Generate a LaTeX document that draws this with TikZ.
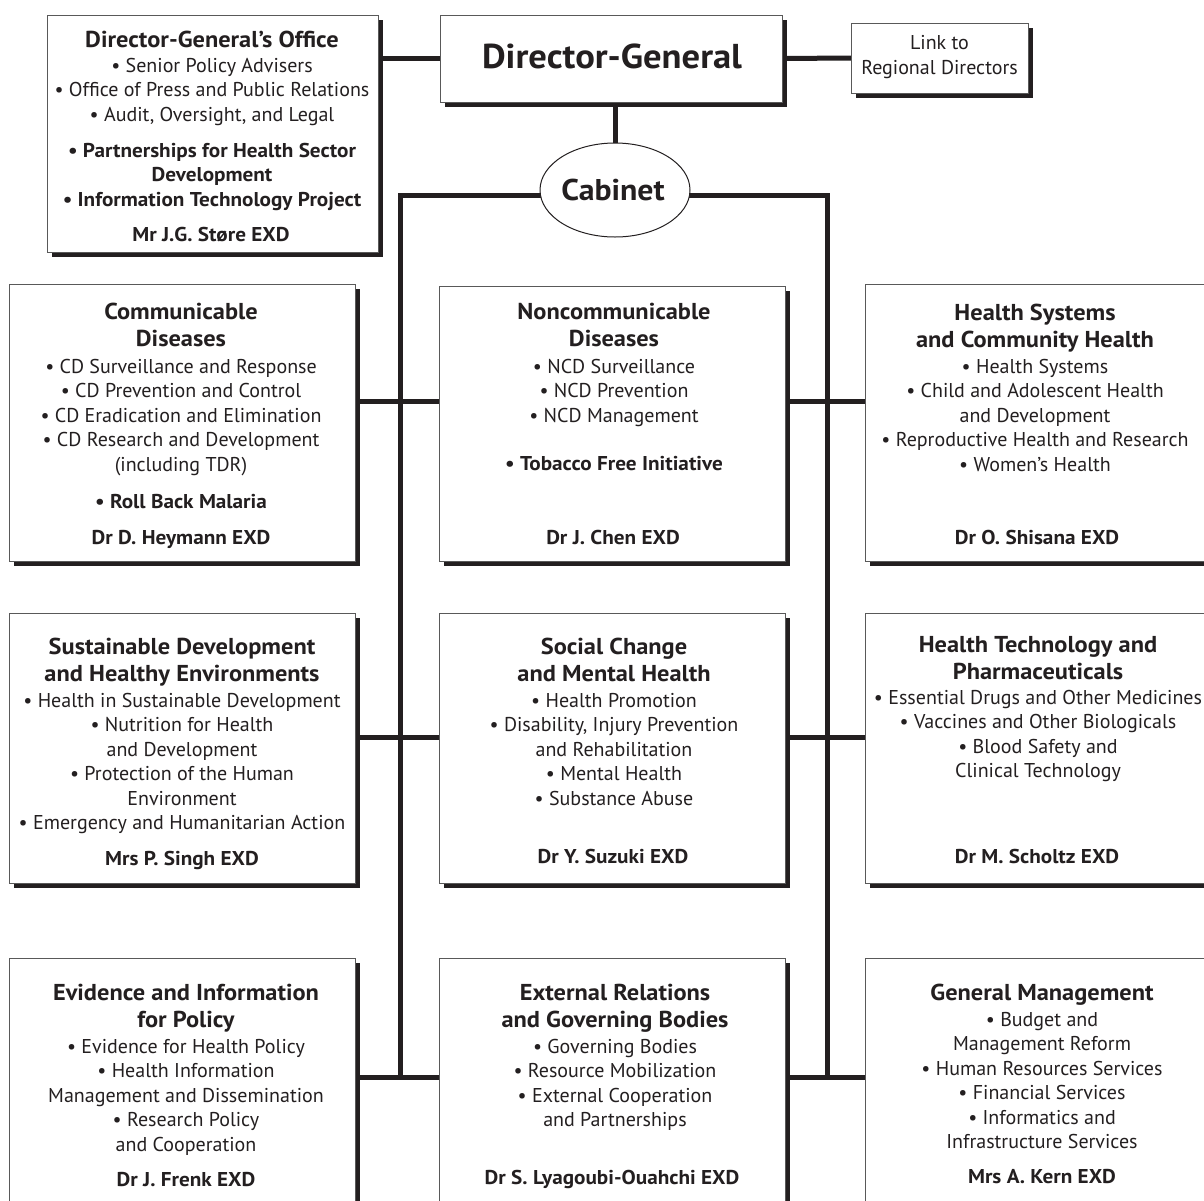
\documentclass[tikz,border=0pt]{standalone}
\usepackage{fontspec}
\setmainfont{PT Sans}[BoldFeatures={FakeStretch=1.06}]
\usetikzlibrary{shapes.geometric,shadows}
\definecolor{ink}{HTML}{231F20}
\newcommand{\ttl}[1]{{\fontsize{23}{24.5}\selectfont\bfseries #1}}
\newcommand{\bul}{\textbullet\ }
\tikzset{
 orgbox/.style={draw=black!65, line width=1pt, fill=white, inner sep=0pt,
   drop shadow={shadow xshift=5pt, shadow yshift=-5pt, fill=ink, opacity=1}},
 conn/.style={draw=ink, line width=5pt},
 txt/.style={anchor=base, inner sep=0pt, text=ink, font=\fontsize{20}{24.5}\selectfont},
 exd/.style={anchor=base, inner sep=0pt, text=ink, font=\fontsize{20}{24.5}\selectfont\bfseries},
}
\newcommand{\bx}[5]{\node[orgbox, minimum width={#4-#2}, minimum height={#5-#3}] (#1) at ({(#2+#4)/2},{(#3+#5)/2}) {};}
\newenvironment{blk}{\begin{tabular}[t]{@{}c@{}}}{\end{tabular}}
\begin{document}
\begin{tikzpicture}[x=1pt,y=-1pt]
\useasboundingbox (0,0) rectangle (1204,1200);
\clip (0,0) rectangle (1204,1200);
\fill[white] (0,0) rectangle (1204,1200);
% junction coordinates
\coordinate (vl) at (400,195);
\coordinate (vr) at (827,195);
\coordinate (vlb) at (400,1077);
\coordinate (vrb) at (827,1077);
\coordinate (j1) at (400,401);
\coordinate (j2) at (400,737);
\coordinate (j3) at (400,1077);
% node outlines used as connector ends
\path
 node[minimum width=331, minimum height=237, inner sep=0pt] (dgo) at (212.5,133.5) {}
 node[minimum width=342, minimum height=87, inner sep=0pt] (dg) at (611,58.5) {}
 node[minimum width=177, minimum height=70, inner sep=0pt] (link) at (939.5,58) {}
 node[ellipse, minimum width=150, minimum height=94, inner sep=0pt] (cab) at (615,190) {}
 node[minimum width=346, minimum height=277, inner sep=0pt] (L1) at (182,422.5) {}
 node[minimum width=346, minimum height=275, inner sep=0pt] (C1) at (612,423.5) {}
 node[minimum width=355, minimum height=277, inner sep=0pt] (R1) at (1042.5,422.5) {}
 node[minimum width=346, minimum height=270, inner sep=0pt] (L2) at (182,748) {}
 node[minimum width=346, minimum height=270, inner sep=0pt] (C2) at (612,748) {}
 node[minimum width=355, minimum height=270, inner sep=0pt] (R2) at (1042.5,748) {}
 node[minimum width=346, minimum height=257, inner sep=0pt] (L3) at (182,1086.5) {}
 node[minimum width=346, minimum height=257, inner sep=0pt] (C3) at (612,1086.5) {}
 node[minimum width=355, minimum height=257, inner sep=0pt] (R3) at (1042.5,1086.5) {};
% connectors
\draw[conn] (dgo.east |- dg.west) -- (dg.west);
\draw[conn] (dg.east) -- (link.west);
\draw[conn] (dg.south -| cab.north) -- (cab.north);
\draw[conn, line join=miter] (vlb) -- (vl) -- (vr) -- (vrb);
\draw[conn] (L1.east |- j1) -- (C1.west |- j1);
\draw[conn] (C1.east |- j1) -- (R1.west |- j1);
\draw[conn] (L2.east |- j2) -- (C2.west |- j2);
\draw[conn] (C2.east |- j2) -- (R2.west |- j2);
\draw[conn] (L3.east |- j3) -- (C3.west |- j3);
\draw[conn] (C3.east |- j3) -- (R3.west |- j3);
% visible boxes
\bx{dgob}{47}{15}{378}{252}
\bx{dgb}{440}{15}{782}{102}
\bx{linkb}{851}{23}{1028}{93}
\node[ellipse, draw=ink, line width=1pt, fill=white, minimum width=150, minimum height=94, inner sep=0pt] (cabb) at (615,190) {};
\bx{L1b}{9}{284}{355}{561}
\bx{C1b}{439}{286}{785}{561}
\bx{R1b}{865}{284}{1220}{561}
\bx{L2b}{9}{613}{355}{883}
\bx{C2b}{439}{613}{785}{883}
\bx{R2b}{865}{613}{1220}{883}
\bx{L3b}{9}{958}{355}{1215}
\bx{C3b}{439}{958}{785}{1215}
\bx{R3b}{865}{958}{1220}{1215}
% texts
\node[anchor=base, inner sep=0pt, text=ink, font=\fontsize{34.5}{38}\selectfont\bfseries] (dgt) at (612,68) {Director-General};
\node[inner sep=0pt, text=ink, align=center, font=\fontsize{20}{24.5}\selectfont] (linkt) at (939.5,57) {Link to\\Regional Directors};
\node[anchor=base, inner sep=0pt, text=ink, font=\fontsize{30}{34}\selectfont\bfseries] (cabt) at (613,200) {Cabinet};

\node[txt] (dgot) at (212,47) {\begin{blk}
\ttl{Director-General’s Office}\\[0.5pt]
\bul Senior Policy Advisers\\
\bul Office of Press and Public Relations\\
\bul Audit, Oversight, and Legal\\[11.5pt]
\textbf{\bul Partnerships for Health Sector}\\
\textbf{Development}\\
\textbf{\bul Information Technology Project}
\end{blk}};
\node[exd] (dgoe) at (211,241) {Mr J.G. Støre EXD};

\node[txt] (L1t) at (181,319) {\begin{blk}
\ttl{Communicable}\\[2.5pt]
\ttl{Diseases}\\[2.5pt]
\bul CD Surveillance and Response\\
\bul CD Prevention and Control\\
\bul CD Eradication and Elimination\\
\bul CD Research and Development\\
(including TDR)\\[13pt]
\textbf{\bul Roll Back Malaria}
\end{blk}};
\node[exd] (L1e) at (181,544) {Dr D. Heymann EXD};

\node[txt] (C1t) at (614,319) {\begin{blk}
\ttl{Noncommunicable}\\[2.5pt]
\ttl{Diseases}\\[2.5pt]
\bul NCD Surveillance\\
\bul NCD Prevention\\
\bul NCD Management\\[24pt]
\textbf{\bul Tobacco Free Initiative}
\end{blk}};
\node[exd] (C1e) at (613,544) {Dr J. Chen EXD};

\node[txt] (R1t) at (1035,320) {\begin{blk}
\ttl{Health Systems}\\[2.5pt]
\ttl{and Community Health}\\[1.5pt]
\bul Health Systems\\
\bul Child and Adolescent Health\\
and Development\\
\bul Reproductive Health and Research\\
\bul Women’s Health
\end{blk}};
\node[exd] (R1e) at (1037,544) {Dr O. Shisana EXD};

\node[txt] (L2t) at (182,654) {\begin{blk}
\ttl{Sustainable Development}\\[2.5pt]
\ttl{and Healthy Environments}\\[1.5pt]
\bul Health in Sustainable Development\\
\bul Nutrition for Health\\
and Development\\
\bul Protection of the Human\\
Environment\\
\bul Emergency and Humanitarian Action
\end{blk}};
\node[exd] (L2e) at (182,865) {Mrs P. Singh EXD};

\node[txt] (C2t) at (614,654) {\begin{blk}
\ttl{Social Change}\\[2.5pt]
\ttl{and Mental Health}\\[1.5pt]
\bul Health Promotion\\
\bul Disability, Injury Prevention\\
and Rehabilitation\\
\bul Mental Health\\
\bul Substance Abuse
\end{blk}};
\node[exd] (C2e) at (613,863) {Dr Y. Suzuki EXD};

\node[txt] (R2t) at (1038,652) {\begin{blk}
\ttl{Health Technology and}\\[2.5pt]
\ttl{Pharmaceuticals}\\[0.5pt]
\bul Essential Drugs and Other Medicines\\
\bul Vaccines and Other Biologicals\\
\bul Blood Safety and\\
Clinical Technology
\end{blk}};
\node[exd] (R2e) at (1037,863) {Dr M. Scholtz EXD};

\node[txt] (L3t) at (186,1000) {\begin{blk}
\ttl{Evidence and Information}\\[2.5pt]
\ttl{for Policy}\\[1.5pt]
\bul Evidence for Health Policy\\
\bul Health Information\\
Management and Dissemination\\
\bul Research Policy\\
and Cooperation
\end{blk}};
\node[exd] (L3e) at (186,1186) {Dr J. Frenk EXD};

\node[txt] (C3t) at (615,1000) {\begin{blk}
\ttl{External Relations}\\[2.5pt]
\ttl{and Governing Bodies}\\[1.5pt]
\bul Governing Bodies\\
\bul Resource Mobilization\\
\bul External Cooperation\\
and Partnerships
\end{blk}};
\node[exd] (C3e) at (612,1184) {Dr S. Lyagoubi-Ouahchi EXD};

\node[txt] (R3t) at (1042,1000) {\begin{blk}
\ttl{General Management}\\[1.5pt]
\bul Budget and\\
Management Reform\\
\bul Human Resources Services\\
\bul Financial Services\\
\bul Informatics and\\
Infrastructure Services
\end{blk}};
\node[exd] (R3e) at (1042,1183) {Mrs A. Kern EXD};
\end{tikzpicture}
\end{document}
